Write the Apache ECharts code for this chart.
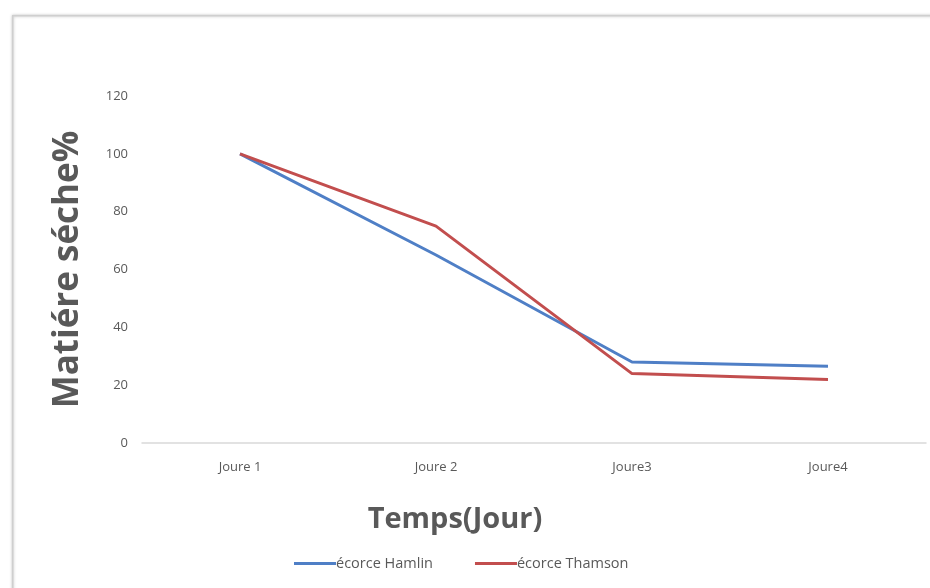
<!DOCTYPE html>
<html>
<head>
<meta charset="utf-8">
<script src="https://cdn.jsdelivr.net/npm/echarts@6/dist/echarts.min.js"></script>
<style>
  html, body { margin: 0; padding: 0; background: #fff; }
  #chart { width: 930px; height: 588px; }
</style>
</head>
<body>
<div id="chart"></div>
<script>
  // données
  var jours = ['Joure 1', 'Joure 2', 'Joure3', 'Joure4'];
  var hamlin = [100, 65, 28, 26.5];
  var thamson = [100, 75, 24, 22];
  var yTicks = [0, 20, 40, 60, 80, 100, 120];

  var chart = echarts.init(document.getElementById('chart'));
  var labelFont = "'Open Sans', sans-serif";

  chart.setOption({
    backgroundColor: '#fff',
    animation: false,
    graphic: [{
      // cadre du graphique (bord gauche et haut visibles)
      type: 'rect',
      left: 12, top: 15,
      shape: { width: 940, height: 600 },
      style: { fill: '#fff', stroke: '#cfcfcf', lineWidth: 1.5,
               shadowBlur: 3, shadowColor: 'rgba(0,0,0,0.25)' },
      z: -10
    }],
    legend: {
      left: 289,
      top: 551,
      icon: 'rect',
      itemWidth: 42,
      itemHeight: 3,
      itemGap: 42,
      data: ['écorce Hamlin', 'écorce Thamson'],
      textStyle: { fontSize: 14.5, color: '#595959', fontFamily: labelFont, padding: [0, 0, 0, -5] }
    },
    grid: { left: 142, right: 4, top: 96, bottom: 145 },
    xAxis: {
      type: 'category',
      data: jours,
      boundaryGap: true,
      name: 'Temps(Jour)',
      nameLocation: 'middle',
      nameGap: 62,
      nameTextStyle: { fontSize: 29, fontWeight: 'bold', color: '#595959',
                       fontFamily: "'Open Sans', sans-serif", padding: [0, 158, 0, 0] },
      axisLine: { lineStyle: { color: '#d9d9d9', width: 1.5 } },
      axisTick: { show: false },
      axisLabel: { margin: 18, fontSize: 13, color: '#595959', fontFamily: labelFont }
    },
    yAxis: {
      type: 'value',
      min: yTicks[0],
      max: yTicks[yTicks.length - 1],
      interval: 20,
      name: 'Matiére séche%',
      nameLocation: 'middle',
      nameGap: 56,
      nameTextStyle: { fontSize: 35, fontWeight: 'bold', color: '#595959',
                       fontFamily: "'Open Sans', sans-serif" },
      axisLine: { show: false },
      axisTick: { show: false },
      splitLine: { show: false },
      axisLabel: { margin: 14, fontSize: 13, color: '#595959', fontFamily: labelFont }
    },
    series: [
      {
        name: 'écorce Hamlin',
        type: 'line',
        data: hamlin,
        symbol: 'none',
        color: '#4f7fc6',
        lineStyle: { width: 3, color: '#4f7fc6' }
      },
      {
        name: 'écorce Thamson',
        type: 'line',
        data: thamson,
        symbol: 'none',
        color: '#c24e4e',
        lineStyle: { width: 3, color: '#c24e4e' }
      }
    ]
  });
</script>
</body>
</html>
